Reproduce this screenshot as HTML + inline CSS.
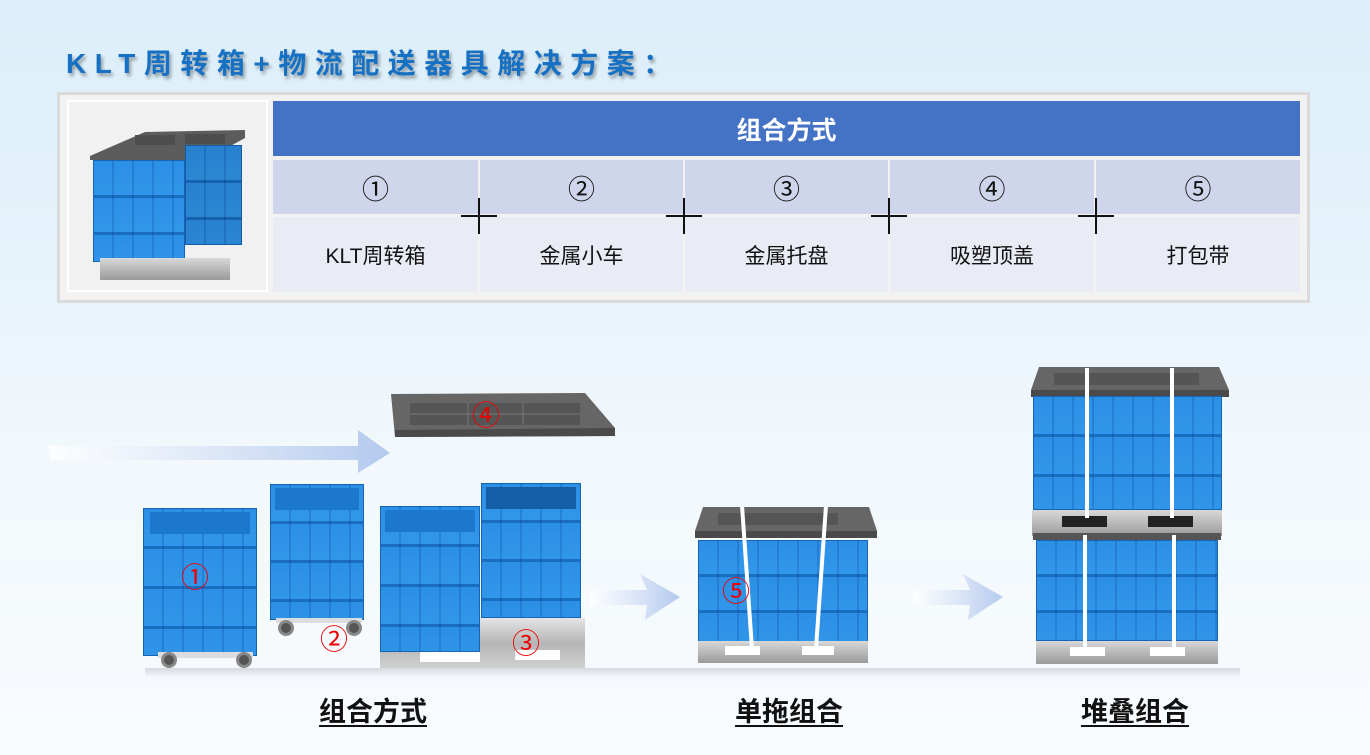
<!DOCTYPE html>
<html><head><meta charset="utf-8">
<style>
*{margin:0;padding:0;box-sizing:border-box}
body{width:1370px;height:755px;position:relative;overflow:hidden;font-family:"Liberation Sans","Noto Sans CJK SC",sans-serif;background:linear-gradient(180deg,#dbeef9 0%,#e6f3fb 35%,#f2f8fc 60%,#f8fbfe 100%)}
.a{position:absolute}
.title{left:66px;top:42px;font-size:28px;font-weight:bold;color:#1670c4;letter-spacing:8.5px;text-shadow:2px 3px 3px rgba(0,0,0,.35);white-space:nowrap}
.frame{left:57px;top:92px;width:1253px;height:211px;background:#f2f2f2;border:3px solid #dadada}
.cell{position:absolute;display:flex;align-items:center;justify-content:center;color:#111;font-size:21px}
.num{font-size:27px}
.plus{position:absolute;width:36px;height:36px}
.plus:before{content:"";position:absolute;left:0;top:17px;width:36px;height:2px;background:#111}
.plus:after{content:"";position:absolute;left:17px;top:0;width:2px;height:36px;background:#111}
.crate{position:absolute;background:repeating-linear-gradient(180deg,#2c8fe6 0,#3197ea var(--h),#1a6ec0 var(--h),#1a6ec0 calc(var(--h) + 3px));border:1px solid #1565b5}
.crate:after{content:"";position:absolute;inset:0;background:repeating-linear-gradient(90deg,transparent 0,transparent 18px,rgba(0,60,140,.22) 18px,rgba(0,60,140,.22) 20px)}
.pal{position:absolute;background:linear-gradient(180deg,#d8d8d8,#9a9a9a);}
.strap{position:absolute;width:4px;background:#fff}
.wheel{position:absolute;width:16px;height:16px;border-radius:50%;background:#555;border:3px solid #888}
.red{position:absolute;color:#e00;font-size:28px;line-height:1}
.lbl{position:absolute;top:690px;font-size:27px;font-weight:bold;color:#111;text-decoration:underline;text-underline-offset:4px}
</style></head><body>
<div class="a title">KLT周转箱+物流配送器具解决方案：</div>
<div class="a frame"></div>
<div class="a" style="left:67px;top:100px;width:201px;height:192px;background:#f1f1f1;border:2px solid #fff"></div>
<svg class="a" style="left:85px;top:120px" width="170" height="50"><polygon points="5,36 60,12 160,10 160,18 120,40 5,40" fill="#5c5c5c"/><rect x="50" y="15" width="40" height="10" fill="#4e4e4e"/><rect x="100" y="14" width="40" height="10" fill="#4e4e4e"/></svg>
<div class="crate" style="--h:34px;left:93px;top:160px;width:92px;height:102px"></div>
<div class="crate" style="--h:34px;left:185px;top:145px;width:57px;height:100px;filter:brightness(.9)"></div>
<div class="pal" style="left:100px;top:258px;width:130px;height:22px"></div>

<div class="a" style="left:273px;top:101px;width:1027px;height:55px;background:#4472c4;color:#fff;font-size:25px;font-weight:bold;display:flex;align-items:center;justify-content:center">组合方式</div>
<div class="cell num" style="left:273px;top:160px;width:205px;height:54px;background:#cfd5ea">①</div>
<div class="cell num" style="left:480px;top:160px;width:203px;height:54px;background:#cfd5ea">②</div>
<div class="cell num" style="left:685px;top:160px;width:203px;height:54px;background:#cfd5ea">③</div>
<div class="cell num" style="left:890px;top:160px;width:204px;height:54px;background:#cfd5ea">④</div>
<div class="cell num" style="left:1096px;top:160px;width:204px;height:54px;background:#cfd5ea">⑤</div>
<div class="cell" style="left:273px;top:217px;width:205px;height:75px;background:#e9ebf5">KLT周转箱</div>
<div class="cell" style="left:480px;top:217px;width:203px;height:75px;background:#e9ebf5">金属小车</div>
<div class="cell" style="left:685px;top:217px;width:203px;height:75px;background:#e9ebf5">金属托盘</div>
<div class="cell" style="left:890px;top:217px;width:204px;height:75px;background:#e9ebf5">吸塑顶盖</div>
<div class="cell" style="left:1096px;top:217px;width:204px;height:75px;background:#e9ebf5">打包带</div>
<div class="plus" style="left:461px;top:198px"></div>
<div class="plus" style="left:666px;top:198px"></div>
<div class="plus" style="left:871px;top:198px"></div>
<div class="plus" style="left:1078px;top:198px"></div>

<svg class="a" style="left:40px;top:420px" width="370" height="80"><defs><linearGradient id="g1" x1="0" x2="1"><stop offset="0" stop-color="#fff" stop-opacity=".8"/><stop offset="1" stop-color="#b3c9ee"/></linearGradient></defs><polygon points="8,26 318,26 318,10 350,33 318,53 318,40 10,40" fill="url(#g1)"/></svg>
<svg class="a" style="left:585px;top:570px" width="100" height="60"><defs><linearGradient id="g2" x1="0" x2="1"><stop offset="0" stop-color="#fff" stop-opacity=".8"/><stop offset="1" stop-color="#b3c9ee"/></linearGradient></defs><polygon points="5,20 62,20 55,4 95,27 60,50 62,35 5,35" fill="url(#g2)"/></svg>
<svg class="a" style="left:908px;top:570px" width="100" height="60"><polygon points="5,20 62,20 55,4 95,27 60,50 62,35 5,35" fill="url(#g2)"/></svg>

<svg class="a" style="left:388px;top:390px" width="230" height="52"><polygon points="3,4 197,3 227,38 227,46 7,47" fill="#666"/><polygon points="7,40 227,38 227,46 7,47" fill="#4a4a4a"/><rect x="22" y="13" width="170" height="22" fill="#555"/><line x1="22" y1="24" x2="192" y2="24" stroke="#777"/><line x1="80" y1="13" x2="80" y2="35" stroke="#777"/><line x1="135" y1="13" x2="135" y2="35" stroke="#777"/></svg>
<div class="red" style="left:472px;top:402px">④</div>

<div class="crate" style="--h:37px;left:143px;top:508px;width:114px;height:148px"></div>
<div class="a" style="left:150px;top:512px;width:100px;height:22px;background:#1c78cc"></div>
<div class="pal" style="left:158px;top:652px;width:95px;height:6px;background:#ddd"></div>
<div class="wheel" style="left:161px;top:652px"></div><div class="wheel" style="left:236px;top:652px"></div>
<div class="red" style="left:181px;top:564px">①</div>
<div class="crate" style="--h:36px;left:270px;top:484px;width:94px;height:136px"></div>
<div class="a" style="left:275px;top:488px;width:84px;height:22px;background:#1c78cc"></div>
<div class="pal" style="left:276px;top:618px;width:86px;height:5px;background:#ddd"></div>
<div class="wheel" style="left:278px;top:620px"></div><div class="wheel" style="left:346px;top:620px"></div>
<div class="red" style="left:320px;top:626px">②</div>
<div class="pal" style="left:380px;top:618px;width:205px;height:50px;background:linear-gradient(180deg,#e5e5e5,#b5b5b5 50%,#d0d0d0)"></div>
<div class="a" style="left:420px;top:652px;width:60px;height:10px;background:#fff"></div>
<div class="a" style="left:515px;top:650px;width:45px;height:10px;background:#fff"></div>
<div class="crate" style="--h:37px;left:380px;top:506px;width:100px;height:146px"></div>
<div class="a" style="left:385px;top:510px;width:90px;height:22px;background:#1c78cc"></div>
<div class="crate" style="--h:36px;left:481px;top:483px;width:100px;height:135px"></div>
<div class="a" style="left:486px;top:487px;width:90px;height:22px;background:#155fa8"></div>
<div class="red" style="left:512px;top:630px">③</div>

<svg class="a" style="left:693px;top:505px" width="186" height="38"><polygon points="10,2 176,2 184,26 184,33 2,33 2,26" fill="#666"/><rect x="2" y="26" width="182" height="7" fill="#4a4a4a"/><rect x="25" y="8" width="120" height="12" fill="#555"/></svg>
<div class="crate" style="--h:33px;left:698px;top:540px;width:170px;height:102px"></div>
<div class="pal" style="left:698px;top:641px;width:170px;height:22px"></div>
<div class="a" style="left:725px;top:646px;width:35px;height:9px;background:#fff"></div><div class="a" style="left:802px;top:646px;width:32px;height:9px;background:#fff"></div>
<div class="strap" style="left:745px;top:507px;height:140px;transform:skewX(4deg)"></div>
<div class="strap" style="left:819px;top:507px;height:140px;transform:skewX(-4deg)"></div>
<div class="red" style="left:722px;top:578px">⑤</div>

<svg class="a" style="left:1029px;top:365px" width="202" height="34"><polygon points="10,2 190,2 200,25 200,32 2,32 2,25" fill="#666"/><rect x="2" y="25" width="198" height="7" fill="#4a4a4a"/><rect x="25" y="8" width="145" height="12" fill="#555"/></svg>
<div class="crate" style="--h:37px;left:1033px;top:396px;width:189px;height:114px"></div>
<div class="pal" style="left:1032px;top:510px;width:190px;height:26px"></div>
<div class="a" style="left:1062px;top:516px;width:45px;height:11px;background:#222"></div><div class="a" style="left:1148px;top:516px;width:45px;height:11px;background:#222"></div>
<div class="a" style="left:1033px;top:533px;width:188px;height:7px;background:#555"></div>
<div class="crate" style="--h:33px;left:1036px;top:540px;width:182px;height:101px"></div>
<div class="pal" style="left:1036px;top:641px;width:182px;height:23px"></div>
<div class="a" style="left:1070px;top:647px;width:35px;height:9px;background:#fff"></div><div class="a" style="left:1150px;top:647px;width:35px;height:9px;background:#fff"></div>
<div class="strap" style="left:1085px;top:368px;height:150px"></div>
<div class="strap" style="left:1170px;top:368px;height:150px"></div>
<div class="strap" style="left:1083px;top:535px;height:112px"></div>
<div class="strap" style="left:1172px;top:535px;height:112px"></div>

<div class="a" style="left:145px;top:668px;width:1095px;height:10px;background:linear-gradient(180deg,rgba(200,205,212,.7),rgba(240,243,246,0))"></div>

<div class="lbl" style="left:319px">组合方式</div>
<div class="lbl" style="left:735px">单拖组合</div>
<div class="lbl" style="left:1081px">堆叠组合</div>
</body></html>
